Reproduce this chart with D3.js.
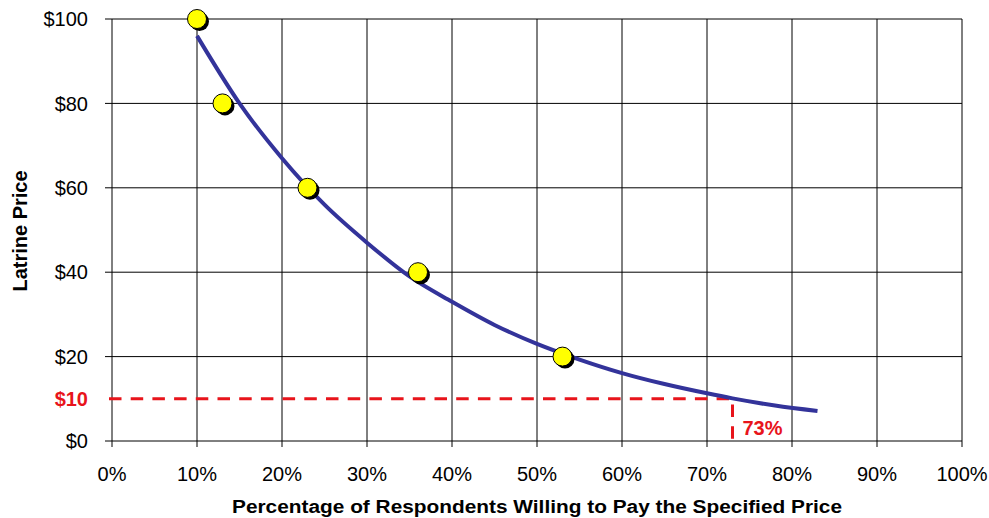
<!DOCTYPE html>
<html><head><meta charset="utf-8">
<script src="https://cdn.jsdelivr.net/npm/d3@7"></script>
<style>body{margin:0;background:#fff}svg{display:block}text{font-family:"Liberation Sans",Arial,sans-serif}</style>
</head><body><svg id="c" width="989" height="518"></svg>
<script>
// Survey points: % willing to pay vs price
const pctWilling = [10, 13, 23, 36, 53];
const prices = [100, 80, 60, 40, 20];
// Fitted demand curve
const curvePct = [10, 15, 20, 25, 30, 35, 40, 45, 50, 55, 60, 65, 70, 73, 78, 83];
const curvePrice = [96, 80, 67, 56, 47, 39, 33, 27.5, 23, 19.3, 16.1, 13.5, 11.3, 10.1, 8.4, 7.1];
const xTicks = [0, 10, 20, 30, 40, 50, 60, 70, 80, 90, 100];
const yTicks = [0, 20, 40, 60, 80, 100];
const markPrice = 10, markPct = 73;

const svg = d3.select("#c");
const x = d3.scaleLinear().domain([0, 100]).range([112, 962]);
const y = d3.scaleLinear().domain([0, 100]).range([441, 19]);

// grid
svg.append("g").selectAll("line").data(xTicks).join("line")
  .attr("x1", d => x(d)).attr("x2", d => x(d)).attr("y1", y(100)).attr("y2", y(0) + 6)
  .attr("stroke", "#000").attr("stroke-width", 1);
svg.append("g").selectAll("line").data(yTicks).join("line")
  .attr("x1", x(0) - 7).attr("x2", x(100)).attr("y1", d => y(d)).attr("y2", d => y(d))
  .attr("stroke", "#000").attr("stroke-width", 1);

// tick labels
svg.append("g").selectAll("text").data(yTicks).join("text")
  .attr("x", 88).attr("y", d => y(d)).attr("dy", "0.36em").attr("text-anchor", "end")
  .attr("font-size", 20).text(d => "$" + d);
svg.append("text").attr("x", 88).attr("y", y(markPrice)).attr("dy", "0.36em")
  .attr("text-anchor", "end").attr("font-size", 20).attr("font-weight", "bold")
  .attr("fill", "#e8141b").text("$" + markPrice);
svg.append("g").selectAll("text").data(xTicks).join("text")
  .attr("x", d => x(d)).attr("y", 481).attr("text-anchor", "middle")
  .attr("font-size", 20).text(d => d + "%");

// titles
svg.append("text").attr("x", 232).attr("y", 513)
  .attr("font-size", 18).attr("font-weight", "bold")
  .attr("textLength", 610).attr("lengthAdjust", "spacingAndGlyphs")
  .text("Percentage of Respondents Willing to Pay the Specified Price");
svg.append("text").attr("transform", `translate(27,231) rotate(-90)`)
  .attr("text-anchor", "middle").attr("font-size", 20).attr("font-weight", "bold")
  .text("Latrine Price");

// red dashed guide
svg.append("path")
  .attr("d", d3.line()([[x(0) - 3, y(markPrice)], [x(markPct), y(markPrice)], [x(markPct), y(0)]]))
  .attr("fill", "none").attr("stroke", "#e8141b").attr("stroke-width", 3)
  .attr("stroke-dasharray", "12.5,9.2");
svg.append("text").attr("x", x(markPct) + 10).attr("y", 435)
  .attr("font-size", 20).attr("font-weight", "bold").attr("fill", "#e8141b").text(markPct + "%");

// curve
const curve = curvePct.map((p, i) => [x(p), y(curvePrice[i])]);
svg.append("path").attr("d", d3.line().curve(d3.curveMonotoneX)(curve))
  .attr("fill", "none").attr("stroke", "#33339a").attr("stroke-width", 4);

// markers
const pts = pctWilling.map((p, i) => [p, prices[i]]);
svg.append("g").selectAll("circle").data(pts).join("circle")
  .attr("cx", d => x(d[0]) + 2.5).attr("cy", d => y(d[1]) + 2.5).attr("r", 9.5).attr("fill", "#000");
svg.append("g").selectAll("circle").data(pts).join("circle")
  .attr("cx", d => x(d[0])).attr("cy", d => y(d[1])).attr("r", 9.5)
  .attr("fill", "#ffff00").attr("stroke", "#000").attr("stroke-width", 1);
</script></body></html>
